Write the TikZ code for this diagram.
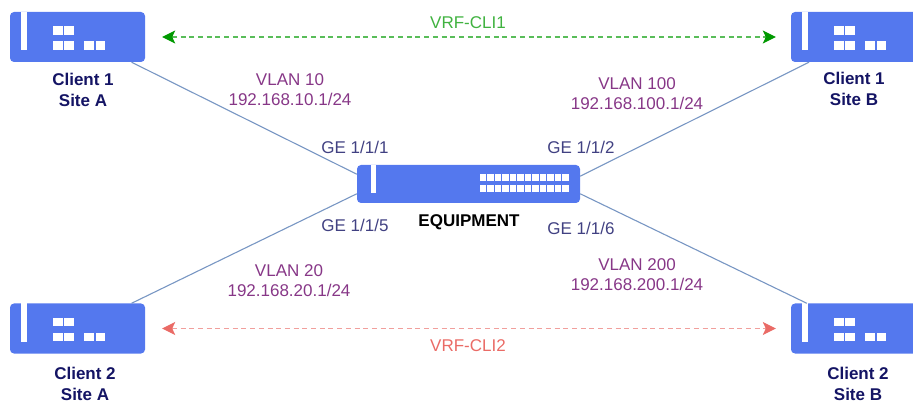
\documentclass[tikz,border=0pt]{standalone}
\usepackage{fontspec}
\setmainfont{Liberation Sans}
\usetikzlibrary{arrows.meta}

% white bar and squares of a site router, from the corner of its node
\newcommand{\siteicon}[1]{%
  \begin{scope}[shift={(#1)}]
    \fill[white] (11,0) rectangle (17,38.5);
    \fill[white] (43,14.5) rectangle (53.5,23);
    \fill[white] (54.5,14.5) rectangle (64.5,23);
    \fill[white] (43,29.5) rectangle (53.5,38);
    \fill[white] (54.5,29.5) rectangle (64.5,38);
    \fill[white] (74,29.5) rectangle (84,38);
    \fill[white] (86,29.5) rectangle (95.5,38);
  \end{scope}}

\begin{document}
\begin{tikzpicture}[x=1pt,y=-1pt,line join=round,
  site/.style={fill=boxblue,rounded corners=4pt,minimum width=135pt,minimum height=50pt,inner sep=0pt},
  switchbox/.style={fill=boxblue,rounded corners=4pt,minimum width=223pt,minimum height=38pt,inner sep=0pt},
  lbl/.style={font=\fontsize{17}{20}\selectfont,align=center,inner sep=0pt},
  sitelbl/.style={lbl,font=\fontsize{17}{20.5}\selectfont\bfseries,textnavy},
  vlanlbl/.style={lbl,textpurple},
  portlbl/.style={lbl,textslate},
  uplink/.style={linkblue,line width=1.1pt},
  vrf/.style={{Stealth[length=13pt,width=13pt,inset=3pt,color=#1]}-{Stealth[length=13pt,width=13pt,inset=3pt,color=#1]},
    draw=#1!65,line width=1.1pt,dash pattern=on 5pt off 3.7pt,shorten <=17pt,shorten >=15pt}]
  \definecolor{boxblue}{RGB}{84,120,238}
  \definecolor{linkblue}{RGB}{120,150,195}
  \definecolor{textnavy}{RGB}{20,20,100}
  \definecolor{textpurple}{RGB}{135,55,135}
  \definecolor{textslate}{RGB}{65,65,130}
  \definecolor{vrfgreen}{RGB}{0,153,0}
  \definecolor{vrfred}{RGB}{234,107,102}

  \clip (0,0) rectangle (913,403);

  % ---- devices ----
  \node[site] (c1a) at (77.5,37) {};
  \node[site] (c1b) at (858.5,37) {};
  \node[site] (c2a) at (77.5,328.5) {};
  \node[site] (c2b) at (858.5,328.5) {};
  \node[switchbox] (eq) at (468.5,184) {};
  \siteicon{c1a.north west}
  \siteicon{c1b.north west}
  \siteicon{c2a.north west}
  \siteicon{c2b.north west}

  % equipment bar and ports
  \fill[white] (371,165) rectangle (376,193);
  \foreach \i in {0,...,11} {
    \fill[white] (479.5+7.5*\i,174) rectangle +(6.8,6.8);
    \fill[white] (479.5+7.5*\i,185) rectangle +(6.8,6.8);
  }

  % ---- uplinks ----
  \draw[uplink] (c1a.-25.5) -- (eq.175.4);
  \draw[uplink] (c1b.207.2) -- (eq.4.6);
  \draw[uplink] (c2a.25) -- (eq.185.0);
  \draw[uplink] (c2b.154.1) -- (eq.-5.0);

  % ---- vrf arrows ----
  \draw[vrf=vrfgreen] (c1a) -- (c1b);
  \draw[vrf=vrfred] (c2a) -- (c2b);
  \node[lbl,vrfgreen!75] (vrf1) at (468,23) {VRF-CLI1};
  \node[lbl,vrfred] (vrf2) at (468,346) {VRF-CLI2};

  % ---- labels ----
  \node[sitelbl] (l1a) at (83,90) {Client 1\\Site A};
  \node[sitelbl] (l1b) at (854,89) {Client 1\\Site B};
  \node[sitelbl] (l2a) at (85,384) {Client 2\\Site A};
  \node[sitelbl] (l2b) at (858,384) {Client 2\\Site B};
  \node[lbl,font=\fontsize{17}{20}\selectfont\bfseries] (eqlbl) at (469,222) {EQUIPMENT};

  \node[vlanlbl] (v10) at (290,89.5) {VLAN 10\\192.168.10.1/24};
  \node[vlanlbl] (v100) at (637,94) {VLAN 100\\192.168.100.1/24};
  \node[vlanlbl] (v20) at (289,281) {VLAN 20\\192.168.20.1/24};
  \node[vlanlbl] (v200) at (637,275) {VLAN 200\\192.168.200.1/24};

  \node[portlbl] (ge1) at (355,147) {GE 1/1/1};
  \node[portlbl] (ge2) at (581,147) {GE 1/1/2};
  \node[portlbl] (ge5) at (355,225) {GE 1/1/5};
  \node[portlbl] (ge6) at (581,228) {GE 1/1/6};
\end{tikzpicture}
\end{document}
